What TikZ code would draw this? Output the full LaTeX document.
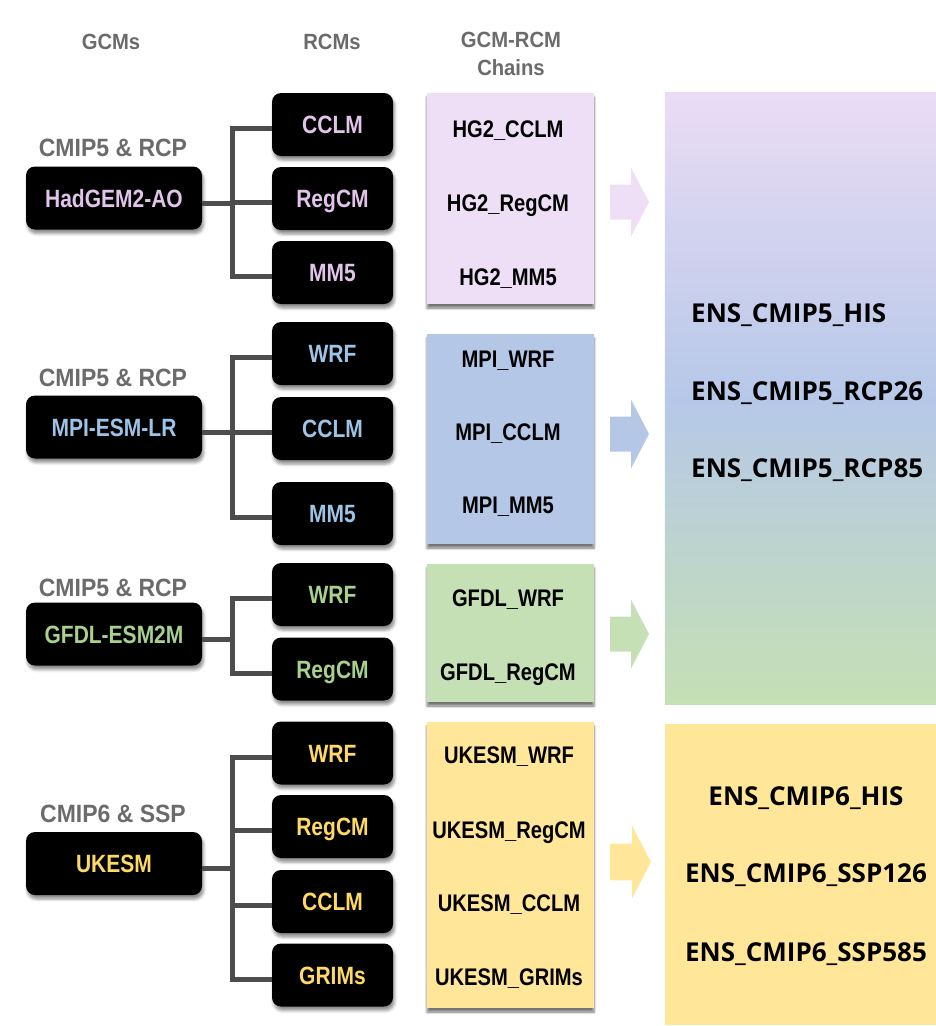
\documentclass[tikz,border=0pt]{standalone}
\usepackage{fontspec}
\setmainfont{Liberation Sans}
\newfontfamily\cond[FakeStretch=0.84]{Liberation Sans}
\newfontfamily\hdr[FakeStretch=0.92]{Liberation Sans}
\newfontfamily\ens{Open Sans}
\usetikzlibrary{shadows.blur}

\definecolor{pinkT}{HTML}{E2C4EA}
\definecolor{blueT}{HTML}{9DC3E6}
\definecolor{greenT}{HTML}{A9D18E}
\definecolor{goldT}{HTML}{FFD966}
\definecolor{pinkF}{HTML}{EEDFF7}
\definecolor{blueF}{HTML}{B4C7E7}
\definecolor{greenF}{HTML}{C5E0B4}
\definecolor{goldF}{HTML}{FFE699}
\definecolor{ensTop}{HTML}{EBDCF5}
\definecolor{ensMid}{HTML}{B6C8E8}
\definecolor{ensBot}{HTML}{C4E0B4}
\definecolor{hdrgray}{HTML}{6B6B6B}
\definecolor{linkgray}{HTML}{4D4D4D}

\tikzset{
  model/.style={fill=black, rounded corners=9pt, minimum height=63pt, inner sep=0pt,
    text height=18pt, text depth=0pt,
    font=\cond\bfseries\fontsize{25}{30}\selectfont,
    blur shadow={shadow xshift=1.5pt, shadow yshift=-4pt, shadow blur radius=3pt, shadow opacity=45}},
  gcm/.style={model, minimum width=176pt},
  rcm/.style={model, minimum width=121pt},
  chainbox/.style={minimum width=167pt, inner sep=0pt,
    blur shadow={shadow xshift=0pt, shadow yshift=-4pt, shadow blur radius=2.5pt, shadow opacity=55}},
  chain/.style={font=\cond\bfseries\fontsize{24}{28}\selectfont, text=black, inner sep=0pt,
    text height=17pt, text depth=0pt},
  head/.style={font=\hdr\bfseries\fontsize{22}{28}\selectfont, text=hdrgray, align=center, inner sep=0pt},
  tag/.style={font=\hdr\bfseries\fontsize{25}{30}\selectfont, text=hdrgray, inner sep=0pt,
    text height=18pt, text depth=0pt},
  ensbox/.style={minimum width=271pt, inner sep=0pt},
  enstext/.style={font=\ens\bfseries\fontsize{26}{30}\selectfont, text=black, inner sep=0pt,
    text height=19pt, text depth=0pt},
  link/.style={draw=linkgray, line width=5pt, line join=miter},
  blockarrow/.pic={\fill[#1] (0,-17.5) -- (21,-17.5) -- (21,-34.5) -- (39,0) -- (21,34.5) -- (21,17.5) -- (0,17.5) -- cycle;}
}

\begin{document}
\begin{tikzpicture}[x=1pt, y=1pt]
\useasboundingbox (0,0) rectangle (936,-1026);

% column headings
\node[head] (hG) at (111,-42) {GCMs};
\node[head] (hR) at (332,-42) {RCMs};
\node[head] (hC) at (511,-54) {GCM-RCM\\Chains};

% ensemble boxes: the CMIP5 one fades pink -> blue -> green
\node[ensbox, minimum height=611pt] (e1) at (800.5,-398.5) {};
\shade[top color=ensTop, bottom color=ensMid] (e1.north west) rectangle (e1.east);
\shade[top color=ensMid, bottom color=ensBot] (e1.west) rectangle (e1.south east);
\node[ensbox, minimum height=301pt, fill=goldF] (e2) at (800.5,-874.5) {};
\node[enstext, anchor=west] (e11) at (691,-313) {ENS\_CMIP5\_HIS};
\node[enstext, anchor=west] (e12) at (691,-391) {ENS\_CMIP5\_RCP26};
\node[enstext, anchor=west] (e13) at (691,-468) {ENS\_CMIP5\_RCP85};
\node[enstext] (e21) at (806,-796) {ENS\_CMIP6\_HIS};
\node[enstext] (e22) at (806,-873) {ENS\_CMIP6\_SSP126};
\node[enstext] (e23) at (806,-952) {ENS\_CMIP6\_SSP585};

% chain boxes
\node[chainbox, fill=pinkF, minimum height=211pt] (c1) at (510.5,-198.5) {};
\node[chainbox, fill=blueF, minimum height=210pt] (c2) at (510.5,-439) {};
\node[chainbox, fill=greenF, minimum height=138pt] (c3) at (510.5,-633) {};
\node[chainbox, fill=goldF, minimum height=286pt] (c4) at (510.5,-865) {};

\node[chain] (c11) at (508,-129) {HG2\_CCLM};
\node[chain] (c12) at (508,-203) {HG2\_RegCM};
\node[chain] (c13) at (508,-277) {HG2\_MM5};
\node[chain] (c21) at (508,-359) {MPI\_WRF};
\node[chain] (c22) at (508,-432) {MPI\_CCLM};
\node[chain] (c23) at (508,-505) {MPI\_MM5};
\node[chain] (c31) at (508,-598) {GFDL\_WRF};
\node[chain] (c32) at (508,-672) {GFDL\_RegCM};
\node[chain] (c41) at (509,-755) {UKESM\_WRF};
\node[chain] (c42) at (509,-830) {UKESM\_RegCM};
\node[chain] (c43) at (509,-903) {UKESM\_CCLM};
\node[chain] (c44) at (509,-977) {UKESM\_GRIMs};

% block arrows from chains to ensembles
\pic (a1) at (610,-202) {blockarrow=pinkF};
\pic (a2) at (610,-434) {blockarrow=blueF};
\pic (a3) at (610,-634) {blockarrow=greenF};
\pic[scale=1.05] (a4) at (610,-862) {blockarrow=goldF};

% GCM boxes
\node[gcm, text=pinkT] (g1) at (114,-198) {HadGEM2-AO};
\node[gcm, text=blueT] (g2) at (114,-427) {MPI-ESM-LR};
\node[gcm, text=greenT] (g3) at (114,-634) {GFDL-ESM2M};
\node[gcm, text=goldT] (g4) at (114,-863.5) {UKESM};

\node[tag] (t1) at (113,-147) {CMIP5 \& RCP};
\node[tag] (t2) at (113,-377) {CMIP5 \& RCP};
\node[tag] (t3) at (113,-587) {CMIP5 \& RCP};
\node[tag] (t4) at (113,-813) {CMIP6 \& SSP};

% RCM boxes
\node[rcm, text=pinkT] (r11) at (332.5,-124.5) {CCLM};
\node[rcm, text=pinkT] (r12) at (332.5,-198.5) {RegCM};
\node[rcm, text=pinkT] (r13) at (332.5,-272.5) {MM5};
\node[rcm, text=blueT] (r21) at (332.5,-353.5) {WRF};
\node[rcm, text=blueT] (r22) at (332.5,-428.5) {CCLM};
\node[rcm, text=blueT] (r23) at (332.5,-513.5) {MM5};
\node[rcm, text=greenT] (r31) at (332.5,-594.5) {WRF};
\node[rcm, text=greenT] (r32) at (332.5,-669) {RegCM};
\node[rcm, text=goldT] (r41) at (332.5,-753) {WRF};
\node[rcm, text=goldT] (r42) at (332.5,-826.5) {RegCM};
\node[rcm, text=goldT] (r43) at (332.5,-901.5) {CCLM};
\node[rcm, text=goldT] (r44) at (332.5,-975) {GRIMs};

% connectors: GCM -> trunk, trunk -> RCMs
\foreach \g/\first/\last in {g1/r11/r13, g2/r21/r23, g3/r31/r32, g4/r41/r44} {
  \draw[link] ([yshift=-4pt]\first.west) -- ++(-39,0) |- ([yshift=-4pt]\last.west);
  \draw[link] ([yshift=-5pt]\g.east) -- ++(31.5,0);
}
\foreach \r in {r12, r22, r42, r43} {
  \draw[link] ([yshift=-4pt]\r.west) -- ++(-39,0);
}
\end{tikzpicture}
\end{document}
